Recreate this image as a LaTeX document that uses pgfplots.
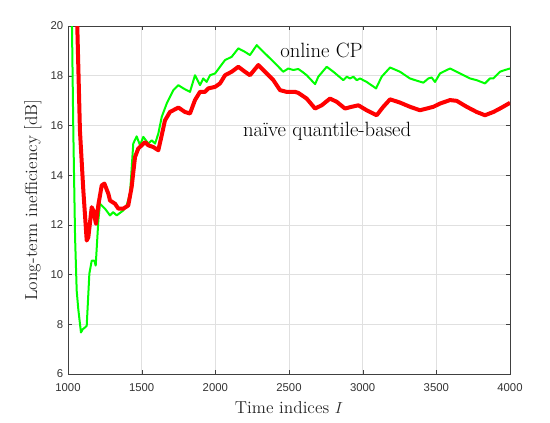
\documentclass[border=0pt]{standalone}
\usepackage{pgfplots}
\pgfplotsset{compat=1.18}
\usepackage{fontspec}
\newfontfamily\ticksans{Liberation Sans}
\definecolor{mgreen}{RGB}{0,255,0}
\definecolor{mred}{RGB}{255,0,0}
\begin{document}
\begin{tikzpicture}
\path[use as bounding box] (-51pt,-36pt) rectangle (361.5pt,280.5pt);
\begin{axis}[
  scale only axis, width=331.5pt, height=261pt,
  at={(0pt,0pt)}, anchor=south west,
  xmin=1000, xmax=4000, ymin=6, ymax=20,
  xtick={1000,1500,...,4000}, ytick={6,8,...,20},
  grid=major, major grid style={black!12, line width=0.5pt},
  axis line style={black!75, line width=0.5pt}, tick style={black!75},
  tick align=inside, major tick length=3pt,
  /pgf/number format/assume math mode=true,
  /pgf/number format/1000 sep={},
  ticklabel style={font=\fontsize{8.5}{10}\ticksans, text=black!80},
  xticklabel style={yshift=-4pt},
  xlabel={Time indices $I$}, ylabel={Long-term inefficiency [dB]},
  label style={font=\fontsize{13}{15}\selectfont, text=black!85},
  clip=true,
]
\addplot[mgreen, line width=1.5pt, line join=round] coordinates {
(1010,24) (1027,20) (1036,15.8) (1048,11.5) (1059,9.35) (1070,8.6) (1088,7.67) (1100,7.8) (1115,7.87) (1127,7.94)
(1145,10.04) (1161,10.56) (1179,10.56) (1188,10.36) (1206,12.18) (1217,12.85) (1251,12.65) (1285,12.38)
(1307,12.51) (1330,12.38) (1375,12.58) (1398,12.78) (1421,13.25) (1443,15.27) (1466,15.56) (1489,15.2)
(1511,15.54) (1545,15.27) (1568,15.4) (1591,15.27) (1613,15.67) (1636,16.34) (1670,16.88) (1715,17.42)
(1749,17.62) (1783,17.49) (1828,17.35) (1862,18.02) (1896,17.62) (1918,17.89) (1941,17.75) (1964,18.02)
(1998,18.09) (2032,18.36) (2066,18.63) (2111,18.76) (2156,19.1) (2201,18.96) (2235,18.83) (2281,19.23)
(2326,18.96) (2371,18.7) (2417,18.43) (2461,18.16) (2495,18.29) (2529,18.23) (2563,18.27) (2590,18.16)
(2620,18.02) (2677,17.66) (2699,17.96) (2756,18.36) (2801,18.16) (2869,17.82) (2892,17.96) (2914,17.89)
(2937,17.96) (2960,17.82) (2982,17.89) (3027,17.75) (3091,17.49) (3129,17.96) (3186,18.33) (3253,18.16)
(3321,17.89) (3367,17.8) (3412,17.72) (3446,17.89) (3468,17.93) (3491,17.75) (3525,18.09) (3547,18.16)
(3593,18.29) (3661,18.09) (3729,17.89) (3774,17.82) (3830,17.69) (3864,17.89) (3887,17.89) (3932,18.16)
(3966,18.23) (4000,18.29)
};
\addplot[mred, line width=3pt, line join=round] coordinates {
(1045,24) (1063,20) (1081,15.8) (1104,13.39) (1127,11.37) (1138,11.5) (1161,12.71) (1172,12.58) (1190,12.04)
(1206,12.8) (1229,13.59) (1247,13.66) (1274,13.25) (1285,12.98) (1319,12.85) (1342,12.65) (1375,12.65)
(1409,12.78) (1432,13.52) (1455,14.73) (1477,15.07) (1500,15.2) (1523,15.33) (1545,15.2) (1579,15.13)
(1613,15.0) (1636,15.6) (1658,16.2) (1692,16.54) (1749,16.72) (1794,16.54) (1828,16.48) (1862,17.02)
(1896,17.35) (1930,17.35) (1952,17.49) (1998,17.55) (2032,17.69) (2066,18.02) (2111,18.16) (2156,18.36)
(2201,18.16) (2235,18.02) (2292,18.43) (2337,18.16) (2394,17.82) (2439,17.42) (2484,17.35) (2541,17.35)
(2563,17.31) (2620,17.08) (2677,16.68) (2722,16.81) (2778,17.08) (2824,16.95) (2880,16.68) (2926,16.75)
(2971,16.81) (3027,16.61) (3095,16.41) (3140,16.75) (3186,17.05) (3253,16.92) (3321,16.75) (3389,16.61)
(3435,16.68) (3480,16.75) (3525,16.88) (3593,17.02) (3638,16.99) (3706,16.75) (3774,16.54) (3830,16.41)
(3887,16.54) (3932,16.68) (4000,16.91)
};
\node[anchor=base west, font=\fontsize{15.5}{18}\selectfont, inner sep=0pt] at (axis cs:2439,18.74) {online CP};
\node[anchor=base west, font=\fontsize{15.5}{18}\selectfont, inner sep=0pt] at (axis cs:2186,15.54) {naïve quantile-based};
\end{axis}
\end{tikzpicture}
\end{document}
